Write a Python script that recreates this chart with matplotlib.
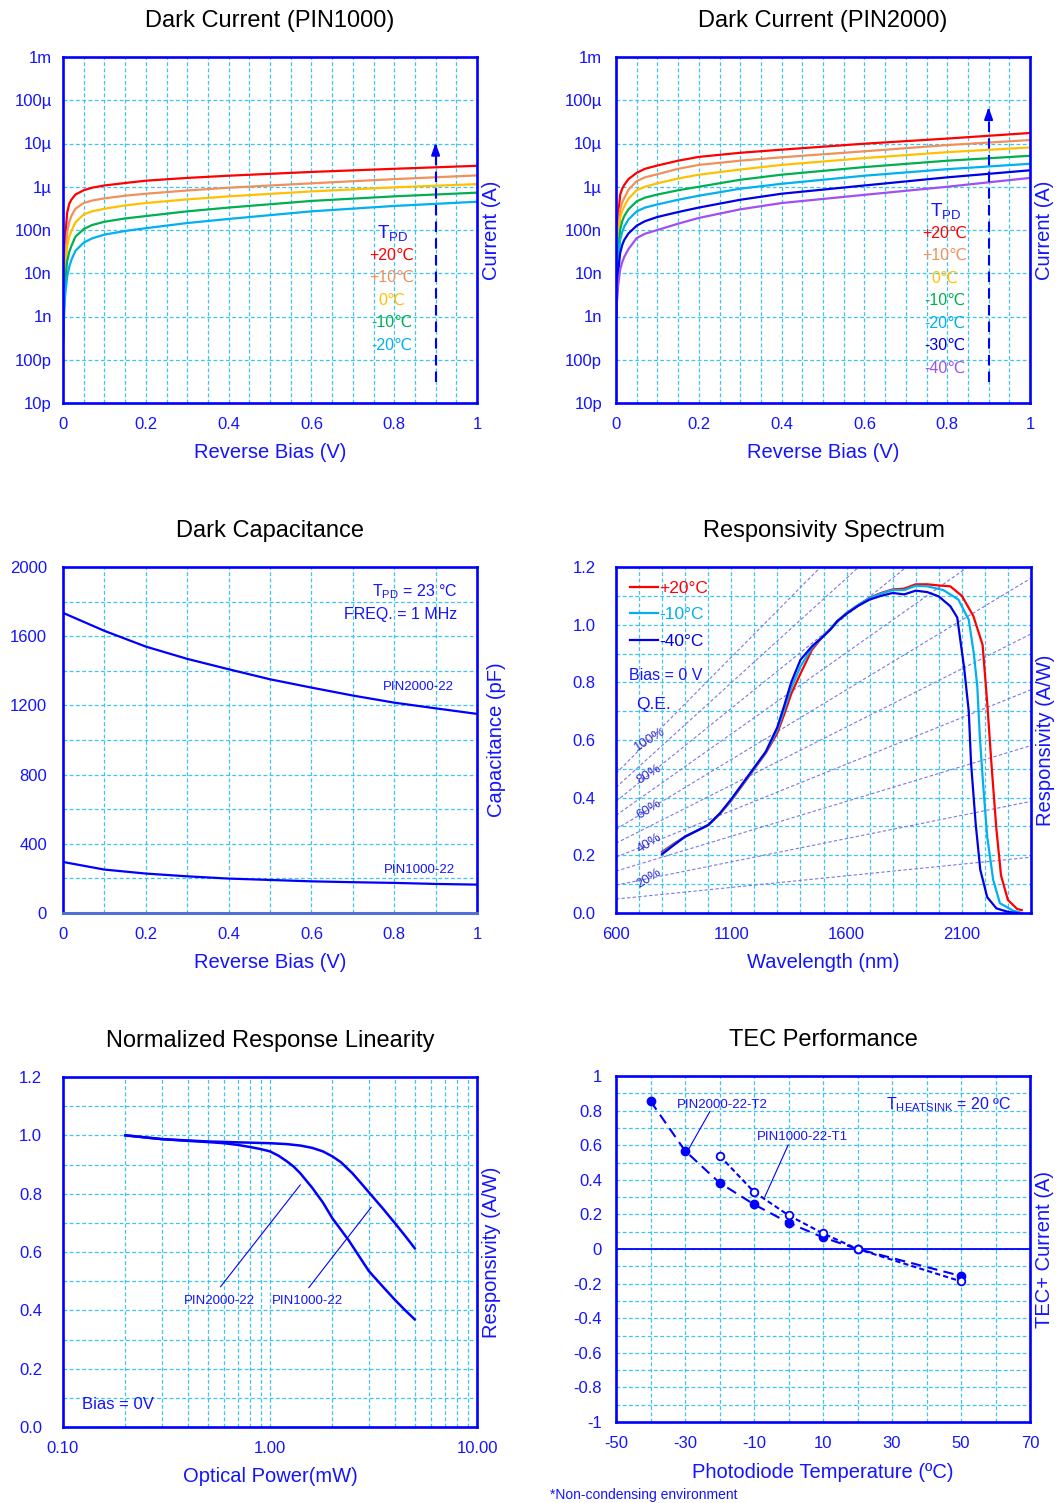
import matplotlib
matplotlib.use('Agg')
import matplotlib.pyplot as plt
from matplotlib.ticker import MultipleLocator, NullLocator, LogLocator, NullFormatter, FuncFormatter

plt.rcParams['font.family'] = ['Liberation Sans', 'DejaVu Sans']
plt.rcParams['axes.unicode_minus'] = False

BLUE = '#0000ff'
TXT = '#1414ff'
GRID = '#3cc4f0'
TITLE_FONT = ['Liberation Sans Narrow', 'Liberation Sans', 'DejaVu Sans']

# ---------------- data ----------------
# dark current, both detectors (A vs reverse bias V)
bias = [0, 0.002, 0.005, 0.01, 0.015, 0.02, 0.03, 0.05, 0.07, 0.1, 0.15, 0.2, 0.3, 0.4, 0.6, 0.8, 1.0]
decade_ticks = [1e-11, 1e-10, 1e-9, 1e-8, 1e-7, 1e-6, 1e-5, 1e-4, 1e-3]
decade_labels = ['10p', '100p', '1n', '10n', '100n', '1µ', '10µ', '100µ', '1m']

p1k_p20 = [3e-10, 5e-9, 6e-8, 2.5e-7, 4e-7, 5e-7, 6.6e-7, 8.3e-7, 9.5e-7, 1.07e-6, 1.22e-6, 1.38e-6, 1.6e-6,
           1.8e-6, 2.2e-6, 2.6e-6, 3.05e-6]
p1k_p10 = [3e-10, 3e-9, 2e-8, 8.7e-8, 1.5e-7, 2.1e-7, 3.1e-7, 4.2e-7, 4.8e-7, 5.4e-7, 6.2e-7, 6.9e-7, 8.2e-7,
           9.5e-7, 1.2e-6, 1.5e-6, 1.83e-6]
p1k_0 = [3e-10, 2e-9, 1.2e-8, 4.2e-8, 7e-8, 9.3e-8, 1.5e-7, 2.3e-7, 2.7e-7, 3.1e-7, 3.7e-7, 4.2e-7, 5.1e-7,
         6e-7, 7.8e-7, 9.7e-7, 1.15e-6]
p1k_m10 = [2.8e-10, 1.2e-9, 6e-9, 1.9e-8, 3.1e-8, 4.2e-8, 7e-8, 1.05e-7, 1.3e-7, 1.55e-7, 1.85e-7, 2.1e-7,
           2.7e-7, 3.3e-7, 4.7e-7, 6e-7, 7.3e-7]
p1k_m20 = [2.5e-10, 8e-10, 3e-9, 8.3e-9, 1.4e-8, 2e-8, 3.3e-8, 5.1e-8, 6.4e-8, 7.8e-8, 9.5e-8, 1.1e-7, 1.45e-7,
           1.8e-7, 2.7e-7, 3.6e-7, 4.5e-7]

p2k_p20 = [1e-9, 2e-8, 2e-7, 6.5e-7, 9e-7, 1.1e-6, 1.5e-6, 2.1e-6, 2.6e-6, 3.1e-6, 4e-6, 4.9e-6, 6.1e-6, 7.2e-6,
           9.9e-6, 1.3e-5, 1.75e-5]
p2k_p10 = [1e-9, 1.2e-8, 1e-7, 3e-7, 4.4e-7, 5.5e-7, 8.5e-7, 1.35e-6, 1.65e-6, 1.95e-6, 2.6e-6, 3.2e-6, 4e-6,
           4.8e-6, 6.6e-6, 9.2e-6, 1.2e-5]
p2k_0 = [1e-9, 8e-9, 6e-8, 1.9e-7, 2.8e-7, 3.5e-7, 5.3e-7, 8.3e-7, 1.0e-6, 1.2e-6, 1.55e-6, 1.9e-6, 2.5e-6,
         3.2e-6, 4.6e-6, 6.3e-6, 8.1e-6]
p2k_m10 = [1e-9, 5e-9, 3e-8, 1e-7, 1.6e-7, 2.1e-7, 3e-7, 4.6e-7, 5.6e-7, 6.6e-7, 8.3e-7, 1.0e-6, 1.45e-6, 1.9e-6,
           2.85e-6, 4e-6, 5.2e-6]
p2k_m20 = [9e-10, 3.5e-9, 1.8e-8, 5.9e-8, 9e-8, 1.2e-7, 1.75e-7, 2.7e-7, 3.3e-7, 3.9e-7, 5e-7, 6.2e-7, 9e-7,
           1.17e-6, 1.8e-6, 2.55e-6, 3.4e-6]
p2k_m30 = [9e-10, 2.5e-9, 1e-8, 2.9e-8, 4.5e-8, 5.9e-8, 8.3e-8, 1.26e-7, 1.6e-7, 2e-7, 2.6e-7, 3.3e-7, 5e-7,
           6.9e-7, 1.07e-6, 1.65e-6, 2.4e-6]
p2k_m40 = [8e-10, 2e-9, 5e-9, 1.2e-8, 1.8e-8, 2.4e-8, 3.6e-8, 6.5e-8, 8.2e-8, 1e-7, 1.4e-7, 1.9e-7, 3e-7, 4.2e-7,
           6.5e-7, 1e-6, 1.6e-6]

temp_labels = ['+20℃', '+10℃', '0℃', '-10℃', '-20℃', '-30℃', '-40℃']
temp_colors = ['#ff0000', '#f0905a', '#ffc000', '#00b050', '#00b0f0', '#0000e8', '#a050f0']
arrow_x = 0.9
arrow_p1k = (3e-11, 1.2e-5)
arrow_p2k = (3e-11, 8e-5)

# capacitance (pF)
cap_bias = [0, 0.1, 0.2, 0.3, 0.4, 0.5, 0.6, 0.7, 0.8, 0.9, 1.0]
cap_pin2000 = [1735, 1631, 1540, 1469, 1409, 1351, 1303, 1257, 1216, 1183, 1151]
cap_pin1000 = [295, 251, 228, 212, 199, 191, 183, 178, 174, 168, 164]

# responsivity spectrum (A/W)
wl_p20 = [800, 850, 900, 950, 1000, 1050, 1100, 1150, 1200, 1250, 1300, 1330, 1360, 1400, 1450, 1500, 1530,
          1560, 1600, 1650, 1700, 1750, 1800, 1850, 1900, 1950, 2000, 2050, 2100, 2150, 2190, 2210, 2230, 2250,
          2270, 2300, 2340, 2360]
resp_p20 = [0.212, 0.24, 0.265, 0.285, 0.305, 0.343, 0.39, 0.445, 0.50, 0.555, 0.625, 0.69, 0.76, 0.83, 0.913,
            0.962, 0.985, 1.012, 1.04, 1.068, 1.093, 1.11, 1.122, 1.125, 1.14, 1.14, 1.136, 1.133, 1.10, 1.03,
            0.93, 0.73, 0.50, 0.29, 0.13, 0.045, 0.014, 0.01]
wl_m10 = [800, 850, 900, 950, 1000, 1050, 1100, 1150, 1200, 1250, 1300, 1330, 1360, 1400, 1450, 1500, 1530,
          1560, 1600, 1650, 1700, 1750, 1800, 1850, 1900, 1950, 2020, 2085, 2130, 2152, 2167, 2178, 2193, 2210,
          2236, 2265, 2323, 2360]
resp_m10 = [0.208, 0.238, 0.265, 0.285, 0.305, 0.344, 0.392, 0.448, 0.502, 0.558, 0.635, 0.705, 0.78, 0.855,
            0.92, 0.962, 0.985, 1.013, 1.04, 1.068, 1.092, 1.108, 1.12, 1.12, 1.135, 1.133, 1.12, 1.087, 1.017,
            0.90, 0.786, 0.612, 0.439, 0.265, 0.115, 0.034, 0.008, 0.0]
wl_m40 = [800, 850, 900, 950, 1000, 1050, 1100, 1150, 1200, 1250, 1300, 1330, 1360, 1400, 1450, 1500, 1530,
          1560, 1600, 1650, 1700, 1750, 1800, 1850, 1900, 1950, 2000, 2050, 2080, 2110, 2130, 2140, 2160, 2180,
          2210, 2250, 2300, 2340]
resp_m40 = [0.204, 0.235, 0.265, 0.285, 0.305, 0.345, 0.395, 0.45, 0.505, 0.56, 0.645, 0.72, 0.80, 0.878,
            0.925, 0.96, 0.983, 1.012, 1.038, 1.065, 1.087, 1.10, 1.11, 1.105, 1.118, 1.113, 1.098, 1.064, 1.025,
            0.85, 0.70, 0.52, 0.31, 0.15, 0.055, 0.016, 0.004, 0.0]
qe_levels = [0.1, 0.2, 0.3, 0.4, 0.5, 0.6, 0.7, 0.8, 0.9, 1.0]
qe_labelled = [1.0, 0.8, 0.6, 0.4, 0.2]

# linearity
lin_power_2000 = [0.2, 0.3, 0.4, 0.5, 0.6, 0.7, 0.8, 0.9, 1.0, 1.1, 1.2, 1.3, 1.4, 1.6, 1.8, 2.0, 2.4, 3.0, 3.5,
                  4.0, 4.5, 5.0]
lin_resp_2000 = [1.0, 0.987, 0.981, 0.977, 0.973, 0.967, 0.96, 0.953, 0.945, 0.93, 0.912, 0.893, 0.87, 0.82,
                 0.77, 0.716, 0.64, 0.535, 0.482, 0.437, 0.40, 0.369]
lin_power_1000 = [0.2, 0.3, 0.5, 0.7, 1.0, 1.2, 1.4, 1.6, 1.8, 2.0, 2.2, 2.5, 2.8, 3.0, 3.5, 4.0, 4.5, 5.0]
lin_resp_1000 = [1.0, 0.987, 0.979, 0.976, 0.973, 0.97, 0.965, 0.957, 0.945, 0.928, 0.908, 0.87, 0.83, 0.805,
                 0.75, 0.70, 0.655, 0.613]

# TEC
tec_temp_t2 = [-40, -30, -20, -10, 0, 10, 20, 50]
tec_curr_t2 = [0.855, 0.568, 0.383, 0.258, 0.152, 0.067, 0.0, -0.156]
tec_temp_t1 = [-20, -10, 0, 10, 20, 50]
tec_curr_t1 = [0.54, 0.33, 0.195, 0.09, 0.0, -0.187]
tec_xticks = [-50, -30, -10, 10, 30, 50, 70]


# ---------------- figure ----------------
W, H = 1057, 1503
fig = plt.figure(figsize=(W / 100, H / 100), dpi=100)


def make_ax(left, top, right, bottom):
    return fig.add_axes([left / W, 1 - bottom / H, (right - left) / W, (bottom - top) / H])


def style(ax, title, xlabel, ylabel, ypad, ylab_x, h):
    for s in ax.spines.values():
        s.set_color(BLUE)
        s.set_linewidth(1.9)
    ax.set_axisbelow(True)
    ax.tick_params(which='both', length=0, colors=TXT, labelsize=12)
    ax.tick_params(axis='x', pad=10)
    ax.tick_params(axis='y', pad=ypad)
    ax.grid(True, which='both', color=GRID, ls=(0, (3, 2)), lw=0.9)
    ax.set_xlabel(xlabel, fontsize=14.5, color=TXT)
    ax.xaxis.label.set_va('center')
    ax.xaxis.set_label_coords(0.5, -50 / h)
    ax.set_ylabel(ylabel, fontsize=14.5, color=TXT)
    ax.yaxis.set_label_position('right')
    ax.yaxis.label.set_va('center')
    ax.yaxis.set_label_coords(ylab_x, 0.5)
    ax.text(0.5, 1 + 36 / h, title, transform=ax.transAxes, ha='center', va='center',
            fontsize=17, color='black', family=TITLE_FONT)


fmt_g = FuncFormatter(lambda v, p: f'{v:g}')
fmt_1 = FuncFormatter(lambda v, p: f'{v:.1f}')


def dark_panel(ax, curves, labels, colors, arrow, title):
    for vals, c in zip(curves, colors):
        ax.plot(bias, vals, color=c, lw=1.6)
    ax.set_yscale('log')
    ax.set_xlim(0, 1)
    ax.set_ylim(1e-11, 1e-3)
    ax.set_yticks(decade_ticks, decade_labels)
    ax.yaxis.set_minor_locator(NullLocator())
    ax.xaxis.set_major_locator(MultipleLocator(0.2))
    ax.xaxis.set_minor_locator(MultipleLocator(0.05))
    ax.xaxis.set_major_formatter(fmt_g)
    ax.plot([arrow_x, arrow_x], [arrow[0], arrow[1] * 0.6], color=BLUE, ls=(0, (5, 3)), lw=1.5)
    ax.annotate('', xy=(arrow_x, arrow[1]), xytext=(arrow_x, arrow[1] * 0.55),
                arrowprops=dict(arrowstyle='-|>,head_length=0.7,head_width=0.25', color=BLUE, lw=1.5))
    x0 = 0.795
    y0 = 0.492 if len(labels) == 5 else 0.556
    ax.text(x0, y0, r'$\mathregular{T_{PD}}$', transform=ax.transAxes, ha='center', va='center',
            fontsize=13.5, color=TXT)
    for i, (lab, c) in enumerate(zip(labels, colors)):
        ax.text(x0, y0 - 0.065 * (i + 1), lab, transform=ax.transAxes, ha='center', va='center',
                fontsize=11.5, color=c)
    style(ax, title, 'Reverse Bias (V)', 'Current (A)', 8 if len(labels) == 5 else 10, 1.036, 346)


# top-left
ax1 = make_ax(63, 57, 477, 403)
dark_panel(ax1, [p1k_p20, p1k_p10, p1k_0, p1k_m10, p1k_m20], temp_labels[:5], temp_colors[:5],
           arrow_p1k, 'Dark Current (PIN1000)')

# top-right
ax2 = make_ax(616, 57, 1030, 403)
dark_panel(ax2, [p2k_p20, p2k_p10, p2k_0, p2k_m10, p2k_m20, p2k_m30, p2k_m40], temp_labels, temp_colors,
           arrow_p2k, 'Dark Current (PIN2000)')

# middle-left: capacitance
ax3 = make_ax(63, 567, 477, 913)
ax3.plot(cap_bias, cap_pin2000, color=BLUE, lw=1.6)
ax3.plot(cap_bias, cap_pin1000, color=BLUE, lw=1.6)
ax3.axhline(0, color='#5070d8', lw=2.2, clip_on=False, zorder=5)
ax3.set_xlim(0, 1)
ax3.set_ylim(0, 2000)
ax3.xaxis.set_major_locator(MultipleLocator(0.2))
ax3.xaxis.set_minor_locator(MultipleLocator(0.1))
ax3.xaxis.set_major_formatter(fmt_g)
ax3.yaxis.set_major_locator(MultipleLocator(400))
ax3.yaxis.set_minor_locator(MultipleLocator(200))
ax3.text(0.953, 0.93, r'$\mathregular{T_{PD}}$ = 23 °C', transform=ax3.transAxes, ha='right', va='center',
         fontsize=11.5, color=TXT)
ax3.text(0.953, 0.862, 'FREQ. = 1 MHz', transform=ax3.transAxes, ha='right', va='center',
         fontsize=11.5, color=TXT)
ax3.text(0.945, 0.654, 'PIN2000-22', transform=ax3.transAxes, ha='right', va='center', fontsize=9.5, color=TXT)
ax3.text(0.947, 0.124, 'PIN1000-22', transform=ax3.transAxes, ha='right', va='center', fontsize=9.5, color=TXT)
style(ax3, 'Dark Capacitance', 'Reverse Bias (V)', 'Capacitance (pF)', 11.5, 1.048, 346)

# middle-right: responsivity spectrum
ax4 = make_ax(616, 567, 1031, 913)
for q in qe_levels:
    ax4.plot([600, 2400], [q * 600 / 1239.84, q * 2400 / 1239.84], color='#7878e6', lw=0.8,
             ls=(0, (3, 2)), zorder=1.5)
for q in qe_labelled:
    ax4.text(745, q * 745 / 1239.84, f'{q * 100:.0f}%', ha='center', va='center', rotation=32,
             fontsize=9.5, color='#2a2ad8', zorder=1.6)
ax4.plot(wl_p20, resp_p20, color='#ff0000', lw=1.6, label='+20°C')
ax4.plot(wl_m10, resp_m10, color='#00b0f0', lw=1.6, label='-10°C')
ax4.plot(wl_m40, resp_m40, color='#0000e8', lw=1.6, label='-40°C')
ax4.set_xlim(600, 2400)
ax4.set_ylim(0, 1.2)
ax4.set_xticks([600, 1100, 1600, 2100])
ax4.xaxis.set_minor_locator(MultipleLocator(100))
ax4.yaxis.set_major_locator(MultipleLocator(0.2))
ax4.yaxis.set_minor_locator(MultipleLocator(0.1))
ax4.yaxis.set_major_formatter(fmt_1)
ax4.legend(loc='upper left', frameon=False, handlelength=1.6, handletextpad=0.1, labelspacing=0.65,
           fontsize=12.5, labelcolor='linecolor', borderaxespad=0.5, borderpad=0.3)
ax4.text(656, 0.823, 'Bias = 0 V', ha='left', va='center', fontsize=11.5, color=TXT)
ax4.text(687, 0.722, 'Q.E.', ha='left', va='center', fontsize=12.5, color=TXT)
style(ax4, 'Responsivity Spectrum', 'Wavelength (nm)', 'Responsivity (A/W)', 14.5, 1.034, 346)

# bottom-left: linearity
ax5 = make_ax(63, 1077, 477, 1427)
ax5.plot(lin_power_2000, lin_resp_2000, color=BLUE, lw=1.8)
ax5.plot(lin_power_1000, lin_resp_1000, color=BLUE, lw=1.8)
ax5.set_xscale('log')
ax5.set_xlim(0.1, 10)
ax5.set_ylim(0, 1.2)
ax5.set_xticks([0.1, 1, 10], ['0.10', '1.00', '10.00'])
ax5.xaxis.set_minor_locator(LogLocator(base=10, subs=[2, 3, 4, 5, 6, 7, 8, 9]))
ax5.xaxis.set_minor_formatter(NullFormatter())
ax5.yaxis.set_major_locator(MultipleLocator(0.2))
ax5.yaxis.set_minor_locator(MultipleLocator(0.1))
ax5.yaxis.set_major_formatter(fmt_1)
ax5.plot([0.577, 1.40], [0.481, 0.83], color=BLUE, lw=0.8)
ax5.plot([1.54, 3.08], [0.478, 0.753], color=BLUE, lw=0.8)
ax5.text(0.57, 0.433, 'PIN2000-22', ha='center', va='center', fontsize=9.5, color=TXT)
ax5.text(1.52, 0.433, 'PIN1000-22', ha='center', va='center', fontsize=9.5, color=TXT)
ax5.text(0.123, 0.078, 'Bias = 0V', ha='left', va='center', fontsize=12, color=TXT)
style(ax5, 'Normalized Response Linearity', 'Optical Power(mW)', 'Responsivity (A/W)', 15, 1.036, 350)

# bottom-right: TEC
ax6 = make_ax(616, 1076, 1030, 1422)
ax6.axhline(0, color=BLUE, lw=1.3)
ax6.plot(tec_temp_t2, tec_curr_t2, color=BLUE, lw=1.5, ls=(0, (5, 3)), marker='o', ms=6,
         mfc=BLUE, mec=BLUE)
ax6.plot(tec_temp_t1, tec_curr_t1, color=BLUE, lw=1.5, ls=(0, (2.5, 1.5)), marker='o', ms=5.5,
         mfc='white', mec=BLUE, mew=1.3)
ax6.set_xlim(-50, 70)
ax6.set_ylim(-1, 1)
ax6.set_xticks(tec_xticks)
ax6.xaxis.set_minor_locator(MultipleLocator(10))
ax6.yaxis.set_major_locator(MultipleLocator(0.2))
ax6.yaxis.set_minor_locator(MultipleLocator(0.1))
ax6.xaxis.set_major_formatter(fmt_g)
ax6.yaxis.set_major_formatter(FuncFormatter(lambda v, p: f'{round(v, 1):g}'))
ax6.plot([-22.8, -29.1], [0.794, 0.572], color=BLUE, lw=0.8)
ax6.plot([-0.1, -6.9], [0.601, 0.30], color=BLUE, lw=0.8)
ax6.text(-32.4, 0.832, 'PIN2000-22-T2', ha='left', va='center', fontsize=9.5, color=TXT)
ax6.text(-9.3, 0.645, 'PIN1000-22-T1', ha='left', va='center', fontsize=9.5, color=TXT)
ax6.text(64.6, 0.832, r'$\mathregular{T_{HEATSINK}}$ = 20 ºC', ha='right', va='center', fontsize=11.5,
         color=TXT)
style(ax6, 'TEC Performance', 'Photodiode Temperature (ºC)', 'TEC+ Current (A)', 10, 1.036, 346)

fig.text(550 / W, 1 - 1495 / H, '*Non-condensing environment', ha='left', va='center', fontsize=10,
         color=TXT)

fig.savefig('out.png', dpi=100)
